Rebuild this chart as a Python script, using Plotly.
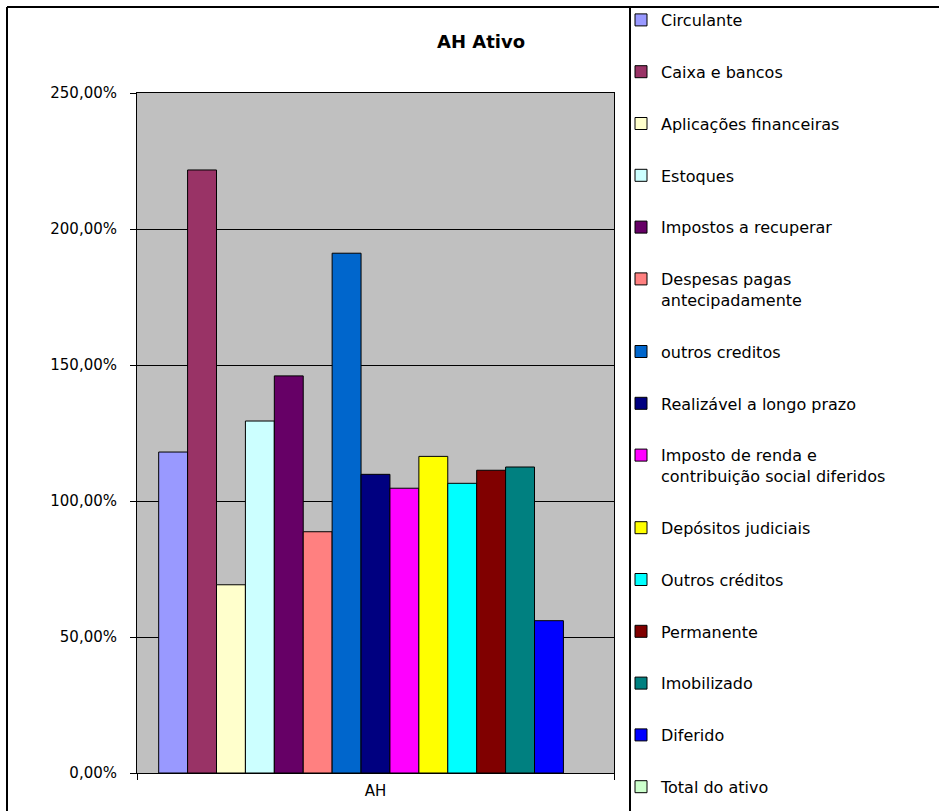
import plotly.graph_objects as go

categories = ["AH"]
series_names = [
    "Circulante",
    "Caixa e bancos",
    "Aplicações financeiras",
    "Estoques",
    "Impostos a recuperar",
    "Despesas pagas<br>antecipadamente",
    "outros creditos",
    "Realizável a longo prazo",
    "Imposto de renda e<br>contribuição social diferidos",
    "Depósitos judiciais",
    "Outros créditos",
    "Permanente",
    "Imobilizado",
    "Diferido",
    "Total do ativo",
]
series_values = [118.0, 221.7, 69.2, 129.4, 146.0, 88.7, 191.1, 109.8, 104.7,
                 116.4, 106.5, 111.3, 112.5, 56.0, None]
series_colors = ["#9999FF", "#993366", "#FFFFCC", "#CCFFFF", "#660066", "#FF8080",
                 "#0066CC", "#000080", "#FF00FF", "#FFFF00", "#00FFFF", "#800000",
                 "#008080", "#0000FF", "#CCFFCC"]
y_tick_values = [0, 50, 100, 150, 200, 250]
y_tick_labels = ["0,00%", "50,00%", "100,00%", "150,00%", "200,00%", "250,00%"]

W, H = 939, 811
L, R, T, B = 137, 614, 93, 773  # plot area in pixels

def px_x(p):
    return (p - L) / (R - L)

def px_y(p):
    return (B - p) / (B - T)

fig = go.Figure()
for i, (name, val, col) in enumerate(zip(series_names, series_values, series_colors)):
    fig.add_trace(go.Bar(
        x=categories, y=[val], name=name,
        marker=dict(color=col, line=dict(color="black", width=1)),
        legendgroup=f"g{i}",
    ))

font = "DejaVu Sans"
frame = dict(color="black", width=2)
fig.update_layout(
    width=W, height=H,
    margin=dict(l=L, r=W - R, t=T, b=H - B, pad=0, autoexpand=False),
    paper_bgcolor="white",
    plot_bgcolor="#C0C0C0",
    barmode="group",
    bargap=1.5 / 16.5,
    bargroupgap=0,
    showlegend=True,
    title=dict(text="<b>AH Ativo</b>", x=481 / W, xanchor="center",
               y=1 - 42 / H, yanchor="middle",
               font=dict(family=font, size=18, color="black")),
    legend=dict(x=px_x(621), xanchor="left", y=px_y(3), yanchor="top",
                font=dict(family=font, size=16, color="black"),
                tracegroupgap=28, valign="top", bgcolor="rgba(0,0,0,0)",
                borderwidth=0, maxheight=2000, itemclick=False),
    xaxis=dict(range=[-0.5, 0.5], showline=True, linecolor="black", linewidth=1,
               mirror=True, ticks="outside", tickson="boundaries", ticklen=6,
               tickcolor="black", showgrid=False, zeroline=False,
               ticklabelstandoff=4,
               tickfont=dict(family=font, size=15, color="black")),
    yaxis=dict(range=[0, 250], tickvals=y_tick_values, ticktext=y_tick_labels,
               showline=True, linecolor="black", linewidth=1, mirror=True,
               ticks="outside", ticklen=6, tickcolor="black",
               showgrid=True, gridcolor="black", gridwidth=1, zeroline=False,
               ticklabelstandoff=10,
               tickfont=dict(family=font, size=15, color="black")),
    shapes=[
        dict(type="line", xref="paper", yref="paper",
             x0=px_x(7), x1=px_x(960), y0=px_y(7), y1=px_y(7), line=frame, layer="above"),
        dict(type="line", xref="paper", yref="paper",
             x0=px_x(7), x1=px_x(7), y0=px_y(7), y1=px_y(830), line=frame, layer="above"),
        dict(type="line", xref="paper", yref="paper",
             x0=px_x(630), x1=px_x(630), y0=px_y(7), y1=px_y(830), line=frame, layer="above"),
    ],
)

fig.write_html("out.html")
